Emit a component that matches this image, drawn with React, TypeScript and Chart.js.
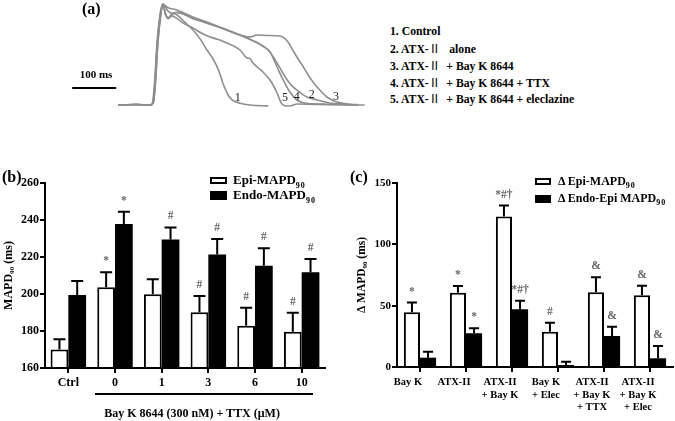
import React, { useEffect, useRef } from "react";
import { Chart, registerables } from "chart.js";
Chart.register(...registerables);

const FONT = "'Liberation Serif', 'Times New Roman', serif";

// ---------- Panel (a): action potential traces, [time (ms), potential (mV)] ----------
const traceControl: number[][] = [
  [0, -85], [40, -84.5], [73, -85], [79, -83], [84, -60], [89, -20], [95, 10], [102, 26],
  [114, 18], [134, 14], [152, 6], [170, -2.5], [186, -12], [202, -24.5], [214, -33],
  [225, -43], [232, -52], [238, -61], [244, -68], [250, -74], [256, -78], [261, -80],
  [277, -83], [300, -85], [341, -86],
];
const traceAtx: number[][] = [
  [0, -85], [40, -84.5], [73, -85], [80, -83], [85, -60], [90, -20], [96, 10], [102, 25],
  [109, 14], [114, 11], [120, 14], [125, 16], [134, 17], [170, 10.7], [209, 4.1],
  [254, -3.6], [293, -11.3], [329, -20], [345, -27], [361, -38.8], [372, -48], [384, -57.5],
  [395, -64], [406, -68.5], [418, -73], [429, -76.2], [452, -79.5], [481, -82.8],
  [510, -84], [545, -85],
];
const traceAtxBay: number[][] = [
  [0, -85], [40, -84.5], [73, -85], [78, -83], [83, -60], [88, -20], [94, 10], [101, 26],
  [114, 22], [134, 19.5], [170, 11.8], [209, 4.8], [254, -4], [277, -8], [300, -10.2],
  [316, -8], [340, -8.5], [368, -9.1], [386, -15.7], [396, -24], [406, -32.2], [418, -41],
  [429, -49.8], [440, -58], [452, -65.2], [463, -71], [474, -76.2], [486, -79.5],
  [497, -81.7], [520, -84], [543, -85], [560, -85],
];
const traceAtxBayTtx: number[][] = [
  [0, -85], [40, -84.5], [73, -85], [80, -83], [85, -60], [90, -20], [96, 10], [102, 25],
  [109, 13], [114, 10.5], [120, 13], [125, 15.5], [134, 16.5], [170, 10], [209, 3.8],
  [254, -3.8], [293, -11.5], [329, -20.5], [345, -26.5], [361, -43.2], [375, -57.5],
  [390, -70.7], [406, -79.5], [424, -82.8], [460, -84], [545, -84.5],
];
const traceAtxBayEle: number[][] = [
  [0, -85], [40, -84.5], [73, -85], [79, -83], [84, -60], [89, -20], [95, 10], [102, 25],
  [108, 14], [114, 10], [122, 13], [134, 10], [152, 4], [170, -0.3], [190, -6],
  [209, -10.2], [228, -13], [247, -16.8], [262, -20], [277, -24.5], [293, -33.3],
  [300, -34], [305, -38], [318, -44], [329, -48.7], [345, -57.5], [352, -63],
  [361, -71.8], [367, -79], [372, -83.9], [384, -86.1], [395, -85.5], [406, -83.9],
  [430, -84], [470, -84.5], [545, -85],
];
const traceNumbers = ["1", "2", "3", "4", "5"];
// where each trace number is written: [time (ms), potential (mV)]
const traceNumberAt: number[][] = [[272, -77.3], [440, -74], [495, -76.2], [406, -76.2], [379, -77.3]];
const scaleBarMs = [-104, -4];
const scaleBarMv = -66.3;
const scaleBarText = "100 ms";
const legendA = [
  "1. Control",
  "2. ATX-\u2161   alone",
  "3. ATX-\u2161  + Bay K 8644",
  "4. ATX-\u2161  + Bay K 8644 + TTX",
  "5. ATX-\u2161  + Bay K 8644 + eleclazine",
];

// ---------- Panel (b) ----------
const bCategories = ["Ctrl", "0", "1", "3", "6", "10"];
const bEpi = [170, 203.6, 199.8, 190.1, 182.9, 179.6];
const bEpiErr = [5.5, 8.1, 8.2, 8.8, 9.7, 10.3];
const bEndo = [199.5, 237.8, 229.5, 221.4, 215.3, 211.7];
const bEndoErr = [7.5, 6.7, 6.5, 8.3, 9.4, 7.2];
const bEpiMarks = ["", "*", "", "#", "#", "#"];
const bEndoMarks = ["", "*", "#", "#", "#", "#"];
const bYTicks = { min: 160, max: 260, step: 20 };

// ---------- Panel (c) ----------
const cCategories = [
  ["Bay K"],
  ["ATX-II"],
  ["ATX-II", "+ Bay K"],
  ["Bay K", "+ Elec"],
  ["ATX-II", "+ Bay K", "+ TTX"],
  ["ATX-II", "+ Bay K", "+ Elec"],
];
const cEpi = [44.6, 60.6, 122.6, 28.8, 60.9, 58.5];
const cEpiErr = [7.9, 5.4, 9, 7.3, 12.3, 7.8];
const cEndoEpi = [7.6, 27.5, 47, 1.6, 25.3, 7.1];
const cEndoEpiErr = [4.9, 4, 7, 2.7, 7.6, 10];
const cEpiMarks = ["*", "*", "*#\u2020", "#", "&", "&"];
const cEndoEpiMarks = ["", "*", "*#\u2020", "", "&", "&"];
const cYTicks = { min: 0, max: 150, step: 50 };

function PanelA() {
  const ref = useRef<HTMLCanvasElement>(null);
  useEffect(() => {
    const traces = [traceControl, traceAtx, traceAtxBay, traceAtxBayTtx, traceAtxBayEle];
    const annot = {
      id: "annotA",
      afterDatasetsDraw(chart: any) {
        const { ctx, scales } = chart;
        const x = scales.x, y = scales.y;
        ctx.save();
        ctx.strokeStyle = "#000";
        ctx.lineWidth = 2;
        ctx.beginPath();
        ctx.moveTo(x.getPixelForValue(scaleBarMs[0]), y.getPixelForValue(scaleBarMv));
        ctx.lineTo(x.getPixelForValue(scaleBarMs[1]), y.getPixelForValue(scaleBarMv));
        ctx.stroke();
        ctx.fillStyle = "#000";
        ctx.textAlign = "center";
        ctx.textBaseline = "middle";
        ctx.font = `bold 11px ${FONT}`;
        ctx.fillText(scaleBarText, x.getPixelForValue((scaleBarMs[0] + scaleBarMs[1]) / 2 + 4), y.getPixelForValue(-52));
        ctx.font = `12px ${FONT}`;
        ctx.fillStyle = "#222";
        traceNumbers.forEach((s, i) => {
          ctx.fillText(s, x.getPixelForValue(traceNumberAt[i][0]), y.getPixelForValue(traceNumberAt[i][1]));
        });
        ctx.restore();
      },
    };
    const chart = new Chart(ref.current!, {
      type: "line",
      data: {
        datasets: traces.map((t, i) => ({
          label: legendA[i],
          data: t.map(([a, b]) => ({ x: a, y: b })),
          borderColor: "#8e8e8e",
          borderWidth: 1.6,
          pointRadius: 0,
          cubicInterpolationMode: "monotone" as const,
          fill: false,
        })),
      },
      options: {
        animation: false,
        responsive: false,
        maintainAspectRatio: false,
        layout: { padding: 0 },
        plugins: { legend: { display: false }, tooltip: { enabled: false } },
        scales: {
          x: { type: "linear", min: -109, max: 572, display: false },
          y: { type: "linear", min: -96, max: 30.5, display: false },
        },
      },
      plugins: [annot],
    });
    return () => chart.destroy();
  }, []);
  return (
    <canvas
      ref={ref}
      width={300}
      height={115}
      style={{ position: "absolute", left: 70, top: 0, width: 300, height: 115 }}
    />
  );
}

function makeErrPlugin(errs: number[][], marks: string[][], capHalf: number, markSize: number) {
  return {
    id: "errbars",
    afterDatasetsDraw(chart: any) {
      const ctx = chart.ctx;
      const ys = chart.scales.y;
      chart.data.datasets.forEach((ds: any, di: number) => {
        chart.getDatasetMeta(di).data.forEach((bar: any, i: number) => {
          const v = ds.data[i] as number;
          const top = ys.getPixelForValue(v + errs[di][i]);
          const yb = ys.getPixelForValue(v);
          ctx.save();
          ctx.strokeStyle = "#000";
          ctx.lineWidth = 2;
          ctx.beginPath();
          ctx.moveTo(bar.x, yb);
          ctx.lineTo(bar.x, top);
          ctx.moveTo(bar.x - capHalf, top);
          ctx.lineTo(bar.x + capHalf, top);
          ctx.stroke();
          const m = marks[di][i];
          if (m) {
            ctx.fillStyle = "#666";
            ctx.font = `bold ${markSize}px ${FONT}`;
            ctx.textAlign = "center";
            ctx.textBaseline = "middle";
            ctx.fillText(m, bar.x, top - 11);
          }
          ctx.restore();
        });
      });
    },
  };
}

type BarProps = {
  left: number;
  labels: any[];
  white: number[];
  black: number[];
  whiteErr: number[];
  blackErr: number[];
  whiteMarks: string[];
  blackMarks: string[];
  yt: { min: number; max: number; step: number };
  yTitle: string;
  yWidth: number;
  xHeight: number;
  padRight: number;
  tickSize: number;
  xTickSize: number;
  titleSize: number;
  titlePad: number;
  catPct: number;
  labelOffset: number;
  xPad: number;
  capHalf: number;
  names: string[];
};

function BarPanel(p: BarProps) {
  const ref = useRef<HTMLCanvasElement>(null);
  useEffect(() => {
    const chart = new Chart(ref.current!, {
      type: "bar",
      data: {
        labels: p.labels,
        datasets: [
          {
            label: p.names[0],
            data: p.white,
            backgroundColor: "#fff",
            borderColor: "#000",
            borderWidth: 2,
            base: p.yt.min,
            categoryPercentage: p.catPct,
            barPercentage: 1,
          },
          {
            label: p.names[1],
            data: p.black,
            backgroundColor: "#000",
            borderColor: "#000",
            borderWidth: 0,
            base: p.yt.min,
            categoryPercentage: p.catPct,
            barPercentage: 1,
          },
        ],
      },
      options: {
        animation: false,
        responsive: false,
        maintainAspectRatio: false,
        layout: { padding: { top: 23, left: 0, right: p.padRight, bottom: 0 } },
        plugins: { legend: { display: false }, tooltip: { enabled: false } },
        scales: {
          x: {
            grid: {
              display: true,
              drawOnChartArea: false,
              drawTicks: true,
              tickLength: 5,
              offset: false,
              color: "#000",
              lineWidth: 2,
            },
            border: { display: true, color: "#000", width: 2 },
            ticks: {
              color: "#000",
              font: { family: FONT, size: p.xTickSize, weight: "bold" },
              padding: p.xPad,
              labelOffset: p.labelOffset,
              maxRotation: 0,
              autoSkip: false,
            },
            afterFit: (s: any) => {
              s.height = p.xHeight;
            },
          },
          y: {
            min: p.yt.min,
            max: p.yt.max,
            grid: {
              display: true,
              drawOnChartArea: false,
              drawTicks: true,
              tickLength: 5,
              color: "#000",
              lineWidth: 2,
            },
            border: { display: true, color: "#000", width: 2 },
            ticks: {
              stepSize: p.yt.step,
              color: "#000",
              font: { family: FONT, size: p.tickSize, weight: "bold" },
              padding: 1,
            },
            title: {
              display: true,
              text: p.yTitle,
              color: "#000",
              font: { family: FONT, size: p.titleSize, weight: "bold" },
              padding: { top: p.titlePad, bottom: 0 },
            },
            afterFit: (s: any) => {
              s.width = p.yWidth;
            },
          },
        },
      },
      plugins: [
        makeErrPlugin([p.whiteErr, p.blackErr], [p.whiteMarks, p.blackMarks], p.capHalf, 11.5),
      ],
    });
    return () => chart.destroy();
  }, []);
  return (
    <canvas
      ref={ref}
      width={335}
      height={261}
      style={{ position: "absolute", left: p.left, top: 160, width: 335, height: 261 }}
    />
  );
}

const txt = (extra: React.CSSProperties): React.CSSProperties => ({
  position: "absolute",
  fontFamily: FONT,
  fontWeight: "bold",
  color: "#000",
  whiteSpace: "pre",
  ...extra,
});

function LegendLine({ s }: { s: string }) {
  const parts = s.split("\u2161");
  return (
    <>
      {parts.map((part, i) => (
        <React.Fragment key={i}>
          {part}
          {i < parts.length - 1 ? (
            <span style={{ fontFamily: "'Noto Sans CJK SC', " + FONT, fontWeight: "normal" }}>{"\u2161"}</span>
          ) : null}
        </React.Fragment>
      ))}
    </>
  );
}

export default function App() {
  return (
    <div
      style={{
        position: "absolute",
        left: 0,
        top: 0,
        width: 675,
        height: 421,
        background: "#fff",
        overflow: "hidden",
      }}
    >
      <PanelA />
      <div style={txt({ left: 82, top: 0, fontSize: 16, lineHeight: "18px" })}>(a)</div>
      {legendA.map((s, i) => (
        <div key={i} style={txt({ left: 390, top: 24.5 + i * 16.7, fontSize: 11.7, lineHeight: "14px" })}>
          <LegendLine s={s} />
        </div>
      ))}

      <BarPanel
        left={0}
        labels={bCategories}
        white={bEpi}
        black={bEndo}
        whiteErr={bEpiErr}
        blackErr={bEndoErr}
        whiteMarks={bEpiMarks}
        blackMarks={bEndoMarks}
        yt={bYTicks}
        yTitle={"MAPD\u2089\u2080 (ms)"}
        yWidth={45}
        xHeight={53}
        padRight={10}
        tickSize={12}
        xTickSize={12}
        titleSize={12}
        titlePad={2}
        catPct={0.76}
        labelOffset={0}
        xPad={3}
        capHalf={6}
        names={["Epi-MAPD90", "Endo-MAPD90"]}
      />
      <div style={txt({ left: 2, top: 168, fontSize: 16, lineHeight: "18px" })}>(b)</div>
      <div style={{ position: "absolute", left: 210, top: 177, width: 13, height: 3, border: "2px solid #000", background: "#fff" }} />
      <div style={{ position: "absolute", left: 210, top: 191, width: 17, height: 9, background: "#000" }} />
      <div style={txt({ left: 233, top: 172, fontSize: 13, lineHeight: "16px" })}>
        Epi-MAPD<sub style={{ fontSize: 8, letterSpacing: 1 }}>90</sub>
      </div>
      <div style={txt({ left: 233, top: 187, fontSize: 13, lineHeight: "16px" })}>
        Endo-MAPD<sub style={{ fontSize: 8, letterSpacing: 1 }}>90</sub>
      </div>
      <div style={{ position: "absolute", left: 95, top: 393, width: 218, height: 2, background: "#000" }} />
      <div style={txt({ left: 72, top: 405, width: 240, textAlign: "center", fontSize: 12, lineHeight: "16px" })}>
        Bay K 8644 (300 nM) + TTX (&mu;M)
      </div>

      <BarPanel
        left={340}
        labels={cCategories}
        white={cEpi}
        black={cEndoEpi}
        whiteErr={cEpiErr}
        blackErr={cEndoEpiErr}
        whiteMarks={cEpiMarks}
        blackMarks={cEndoEpiMarks}
        yt={cYTicks}
        yTitle={"\u0394 MAPD\u2089\u2080 (ms)"}
        yWidth={57}
        xHeight={54}
        padRight={2}
        tickSize={11}
        xTickSize={10.5}
        titleSize={11.5}
        titlePad={15}
        catPct={0.7}
        labelOffset={-12}
        xPad={4}
        capHalf={5}
        names={["\u0394 Epi-MAPD90", "\u0394 Endo-Epi MAPD90"]}
      />
      <div style={txt({ left: 350, top: 168, fontSize: 16, lineHeight: "18px" })}>(c)</div>
      <div style={{ position: "absolute", left: 535, top: 178, width: 12, height: 3, border: "2px solid #000", background: "#fff" }} />
      <div style={{ position: "absolute", left: 535, top: 195, width: 16, height: 8, background: "#000" }} />
      <div style={txt({ left: 558, top: 173, fontSize: 12, lineHeight: "16px" })}>
        &Delta; Epi-MAPD<sub style={{ fontSize: 8, letterSpacing: 1 }}>90</sub>
      </div>
      <div style={txt({ left: 558, top: 190, fontSize: 12, lineHeight: "16px" })}>
        &Delta; Endo-Epi MAPD<sub style={{ fontSize: 8, letterSpacing: 1 }}>90</sub>
      </div>
    </div>
  );
}
